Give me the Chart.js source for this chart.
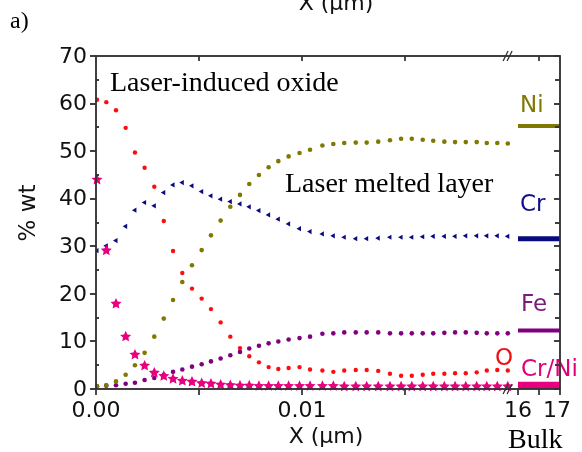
<!DOCTYPE html>
<html><head><meta charset="utf-8">
<script src="https://cdn.jsdelivr.net/npm/chart.js@4.4.0/dist/chart.umd.min.js"></script>
<style>
html,body{margin:0;padding:0;background:#fff;}
#wrap{position:relative;width:582px;height:452px;overflow:hidden;background:#fff;}
canvas{position:absolute;left:0;top:0;}
#ov{position:absolute;left:0;top:0;pointer-events:none;}
</style></head><body>
<div id="wrap">
<canvas id="c" width="582" height="452"></canvas>
<svg id="ov" width="582" height="452" xmlns="http://www.w3.org/2000/svg"></svg>
</div>
<script>
// depth positions (same grid for all profiles)
const depth = [0.00005, 0.00050, 0.00097, 0.00144, 0.00189, 0.00236, 0.00283, 0.00329, 0.00374, 0.00419,
  0.00466, 0.00513, 0.00558, 0.00605, 0.00652, 0.00699, 0.00744, 0.00791, 0.00838, 0.00885,
  0.00935, 0.00988, 0.01039, 0.01099, 0.01152, 0.01205, 0.01261, 0.01314, 0.01370, 0.01427,
  0.01481, 0.01533, 0.01586, 0.01637, 0.01691, 0.01743, 0.01795, 0.01848, 0.01897, 0.01948, 0.01999];
const oxygen = [60.8, 60.3, 58.6, 54.9, 49.7, 46.5, 42.5, 35.3, 29.0, 24.4, 21.1, 19.0, 16.8, 14.0, 11.0, 8.6, 6.9, 5.6, 4.6, 4.2, 4.4, 4.6,
  4.1, 3.9, 3.6, 3.9, 4.0, 4.0, 3.8, 3.2, 2.8, 2.8, 3.0, 3.2, 3.2, 3.3, 3.3, 3.5, 3.9, 4.0, 3.9];
const nickel = [0.6, 0.8, 1.6, 3.0, 5.0, 7.6, 11.0, 14.8, 18.7, 22.5, 26.0, 29.2, 32.3, 35.4, 38.3, 40.8, 43.1, 45.0, 46.6, 47.9, 48.9, 49.6,
  50.3, 51.2, 51.5, 51.7, 51.8, 51.8, 52.0, 52.3, 52.6, 52.6, 52.4, 52.2, 52.0, 51.9, 51.9, 51.9, 51.7, 51.7, 51.6];
const chromium = [29.1, 30.1, 31.2, 34.2, 37.6, 39.2, 38.5, 41.3, 42.9, 43.4, 42.7, 41.5, 40.6, 39.9, 39.4, 38.9, 38.3, 37.5, 36.6, 35.7, 34.7, 33.7,
  33.1, 32.6, 32.2, 31.9, 31.6, 31.6, 31.7, 31.9, 31.9, 31.9, 32.0, 32.1, 32.1, 32.1, 32.2, 32.2, 32.2, 32.2, 32.1];
const iron = [0.5, 0.7, 0.8, 1.1, 1.3, 1.9, 2.3, 3.0, 3.6, 4.1, 4.7, 5.2, 5.8, 6.4, 7.1, 7.8, 8.5, 9.1, 9.6, 10.0, 10.4, 10.7,
  11.0, 11.6, 11.7, 11.9, 11.9, 11.9, 11.9, 11.7, 11.7, 11.7, 11.7, 11.7, 11.8, 11.9, 11.9, 11.8, 11.7, 11.7, 11.7];
const crNiRatio = [44.0, 29.1, 17.9, 11.0, 7.2, 4.9, 3.4, 2.7, 2.1, 1.7, 1.5, 1.2, 1.1, 0.9, 0.8, 0.7, 0.7, 0.6, 0.6, 0.6, 0.6, 0.6,
  0.6, 0.6, 0.6, 0.5, 0.5, 0.5, 0.5, 0.5, 0.5, 0.5, 0.5, 0.5, 0.5, 0.5, 0.5, 0.5, 0.5, 0.5, 0.5];
// bulk composition (segment 16..17)
const bulkX = [16, 17];
const bulkNi = 55.3, bulkCr = 31.6, bulkFe = 12.3, bulkCrNi = 0.8;
// axes limits and ticks
const xMin = 0, xMax = 0.022524, bulkMin = 5.952, bulkMax = 17, yMin = 0, yMax = 70;
const xTicks = [0, 0.005, 0.01, 0.015];
const xTickLabels = ['0.00', '', '0.01', ''];
const bulkTicks = [16, 16.5, 17];
const bulkTickLabels = ['16', '', '17'];
const yTicks = [0, 10, 20, 30, 40, 50, 60, 70];
const yMinorTicks = [5, 15, 25, 35, 45, 55, 65];
const xBreak = 0.02015;
// texts
const xTitle = 'X (µm)', yTitle = '% wt', bulkTitle = 'Bulk', panelLabel = 'a)';
const regionLabels = ['Laser-induced oxide', 'Laser melted layer'];
const seriesLabels = ['Ni', 'Cr', 'Fe', 'O', 'Cr/Ni'];

const COL = {O:'#ff0d0d', Ni:'#807800', Cr:'#0a0a80', Fe:'#800080', CrNi:'#e8007f'};
const TXT = {Ni:'#807800', Cr:'#10108a', Fe:'#7a1a7a', O:'#ee1111', CrNi:'#e0007a'};
const AX = '#333333';

function pts(xs, ys){ return xs.map((x,i)=>({x:x, y:ys[i]})); }
function bulk(v){ return bulkX.map(x=>({x:x, y:v})); }
function dots(data, color, r){
  return {data:data, showLine:false, pointStyle:'circle', pointRadius:r, pointBackgroundColor:color, pointBorderWidth:0, xAxisID:'x'};
}
function bulkLine(v, color, w){
  return {data:bulk(v), showLine:true, borderColor:color, borderWidth:w, pointRadius:0, xAxisID:'x2'};
}
function starPath(ctx, cx, cy, r){
  ctx.beginPath();
  for (let k=0;k<10;k++){ const a=-Math.PI/2+k*Math.PI/5, rr=(k%2)?r*0.48:r; ctx.lineTo(cx+rr*Math.cos(a), cy+rr*Math.sin(a)); }
  ctx.closePath();
}

const starPlugin = {
  id:'stars',
  afterDatasetsDraw(chart){
    const ctx = chart.ctx, meta = chart.getDatasetMeta(0);
    ctx.save(); ctx.fillStyle = COL.CrNi;
    for (const el of meta.data){ starPath(ctx, el.x, el.y, 5.8); ctx.fill(); }
    ctx.restore();
  }
};

// frame and ticks as an SVG layer placed from the chart's scales
function frameGeometry(chart){
  const x = chart.scales.x, x2 = chart.scales.x2, y = chart.scales.y;
  const L = Math.round(x.left), R = Math.round(x.right), T = Math.round(y.getPixelForValue(yMax)), B = Math.round(y.getPixelForValue(yMin));
  let frame = 'M'+L+' '+T+'H'+R+'V'+B+'H'+L+'Z';
  let tk = '';
  for (const v of yTicks){ const py = Math.round(y.getPixelForValue(v)); tk += 'M'+L+' '+py+'h-6M'+R+' '+py+'h-6'; }
  for (const v of yMinorTicks){ const py = Math.round(y.getPixelForValue(v)); tk += 'M'+L+' '+py+'h3M'+R+' '+py+'h-5'; }
  for (const v of xTicks){ const px = Math.round(x.getPixelForValue(v)); tk += 'M'+px+' '+B+'v6'; if (v > xTicks[0]) tk += 'M'+px+' '+T+'v5'; }
  for (const v of bulkTicks){ const px = Math.round(x2.getPixelForValue(v)); tk += 'M'+px+' '+B+'v6'; if (v === bulkTicks[1]) tk += 'M'+px+' '+T+'v5'; }
  return {L, R, T, B, frame, tk};
}

const SANS = '"DejaVu Sans", sans-serif', SERIF = '"Liberation Serif", "Times New Roman", serif';
const framePlugin = {
  id:'frame',
  afterDraw(chart){
    const ctx = chart.ctx, x = chart.scales.x, x2 = chart.scales.x2, y = chart.scales.y;
    const g = frameGeometry(chart), L = g.L, R = g.R, T = g.T, B = g.B;
    document.getElementById('ov').innerHTML =
      '<path d="'+g.frame+'" fill="none" stroke="'+AX+'" stroke-width="1.5"/>' +
      '<path d="'+g.tk+'" fill="none" stroke="'+AX+'" stroke-width="1.3"/>';
    ctx.save();
    // frame on canvas as well (same geometry)
    ctx.strokeStyle = AX; ctx.lineWidth = 1.5;
    ctx.stroke(new Path2D(g.frame));
    ctx.lineWidth = 1.3;
    ctx.stroke(new Path2D(g.tk));
    // axis break marks
    const bx = x.getPixelForValue(xBreak);
    ctx.beginPath();
    for (const yy of [T, B]){
      ctx.moveTo(bx-8, yy+5); ctx.lineTo(bx-3, yy-5);
      ctx.moveTo(bx-4, yy+5); ctx.lineTo(bx+1, yy-5);
    }
    ctx.stroke();
    // tick labels
    ctx.font = '22px ' + SANS; ctx.fillStyle = '#111'; ctx.textBaseline = 'alphabetic'; ctx.textAlign = 'center';
    xTicks.forEach((v,i)=>{ if (xTickLabels[i]) ctx.fillText(xTickLabels[i], x.getPixelForValue(v), B+28); });
    bulkTicks.forEach((v,i)=>{ if (bulkTickLabels[i]) ctx.fillText(bulkTickLabels[i], x2.getPixelForValue(v)-(v===17?3:0), B+28); });
    ctx.textAlign = 'right'; ctx.textBaseline = 'middle';
    yTicks.forEach(v=>{ ctx.fillText(String(v), L-9, y.getPixelForValue(v)+1); });
    // axis titles
    ctx.textBaseline = 'alphabetic'; ctx.textAlign = 'center';
    ctx.fillText(xTitle, (L+R)/2 - 2, 443);
    ctx.fillText(xTitle, (L+R)/2 + 8, 10);
    ctx.save(); ctx.translate(35, 213); ctx.rotate(-Math.PI/2);
    ctx.font = '23px ' + SANS; ctx.fillText(yTitle, 0, 0); ctx.restore();
    ctx.fillStyle = '#000'; ctx.textAlign = 'left';
    ctx.font = '28px ' + SERIF;
    ctx.fillText(bulkTitle, 508, 448);
    ctx.fillText(regionLabels[0], 110, 91);
    ctx.fillText(regionLabels[1], 285, 192);
    ctx.font = '24px ' + SERIF;
    ctx.fillText(panelLabel, 10, 28);
    // series labels
    ctx.font = '23px ' + SANS;
    const lab = [[TXT.Ni, 520, 112], [TXT.Cr, 520, 211], [TXT.Fe, 521, 311], [TXT.O, 495, 365], [TXT.CrNi, 521, 376]];
    seriesLabels.forEach((s,i)=>{ ctx.fillStyle = lab[i][0]; ctx.fillText(s, lab[i][1], lab[i][2]); });
    ctx.restore();
  }
};

new Chart(document.getElementById('c'), {
  type:'scatter',
  data:{datasets:[
    {data:pts(depth, crNiRatio), showLine:false, pointRadius:0, xAxisID:'x'},
    dots(pts(depth, oxygen), COL.O, 2.2),
    dots(pts(depth, nickel), COL.Ni, 2.3),
    {data:pts(depth, chromium), showLine:false, pointStyle:'triangle', rotation:-90, pointRadius:3, pointBackgroundColor:COL.Cr, pointBorderColor:COL.Cr, pointBorderWidth:0, xAxisID:'x'},
    dots(pts(depth, iron), COL.Fe, 2.3),
    bulkLine(bulkNi, COL.Ni, 4),
    bulkLine(bulkCr, COL.Cr, 5),
    bulkLine(bulkFe, COL.Fe, 4),
    bulkLine(bulkCrNi, COL.CrNi, 7)
  ]},
  options:{
    responsive:false, animation:false, devicePixelRatio:1,
    layout:{padding:{top:56, right:22, bottom:63, left:96}},
    plugins:{legend:{display:false}, tooltip:{enabled:false}},
    scales:{
      x:{type:'linear', display:false, min:xMin, max:xMax},
      x2:{type:'linear', display:false, min:bulkMin, max:bulkMax},
      y:{type:'linear', display:false, min:yMin, max:yMax}
    }
  },
  plugins:[starPlugin, framePlugin]
});
</script>
</body></html>
